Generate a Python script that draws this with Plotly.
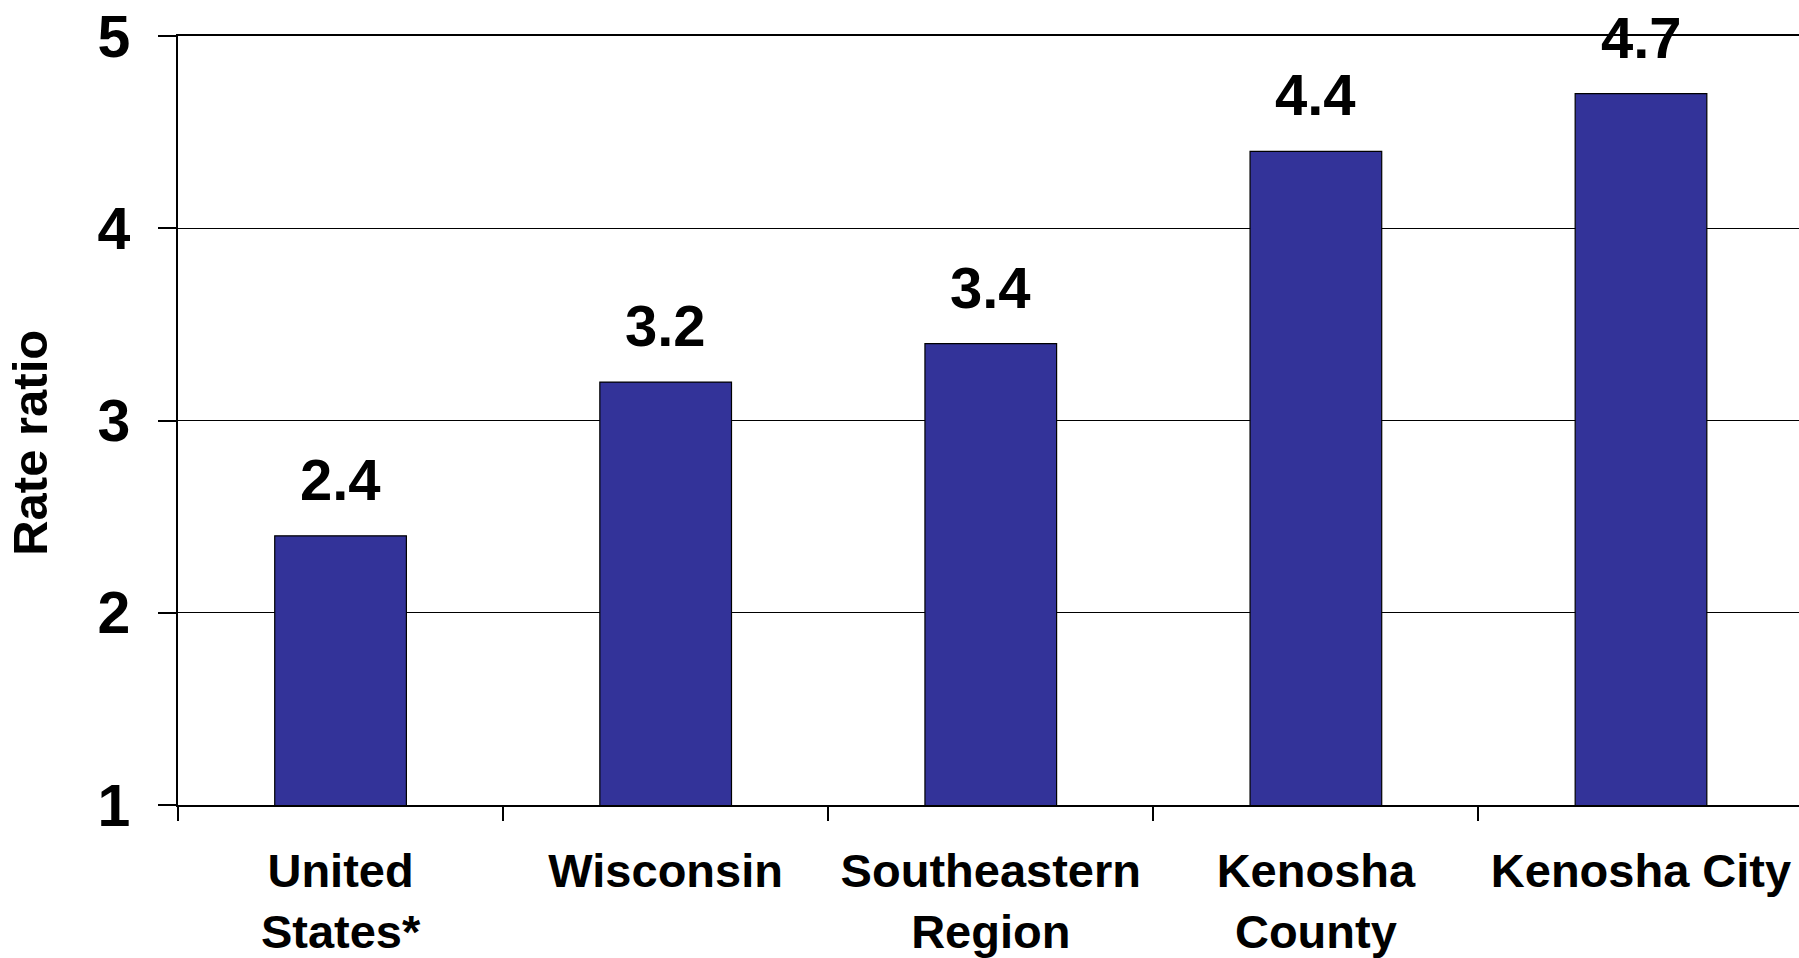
import plotly.graph_objects as go

categories = ["United<br>States*", "Wisconsin", "Southeastern<br>Region", "Kenosha<br>County", "Kenosha City"]
values = [2.4, 3.2, 3.4, 4.4, 4.7]
value_labels = ["2.4", "3.2", "3.4", "4.4", "4.7"]
y_ticks = [1, 2, 3, 4, 5]

FONT = "Liberation Sans, Arial, sans-serif"

fig = go.Figure()
fig.add_trace(go.Bar(
    x=categories, y=values,
    marker=dict(color="#333399", line=dict(color="#000000", width=1.2)),
    width=0.405,
    hoverinfo="skip",
))

for c, v, t in zip(categories, values, value_labels):
    fig.add_annotation(x=c, y=v, text=t, showarrow=False, xanchor="center", yanchor="bottom",
                       yshift=22, font=dict(family=FONT, size=58, color="black", weight="bold"))

fig.add_annotation(xref="paper", yref="paper", x=-0.091, y=0.4716, text="Rate ratio",
                   textangle=-90, showarrow=False, xanchor="center", yanchor="middle",
                   font=dict(family=FONT, size=49, color="black", weight="bold"))

fig.update_layout(
    width=1799, height=958,
    margin=dict(l=178, r=0, t=36, b=148, pad=0),
    paper_bgcolor="white", plot_bgcolor="white",
    showlegend=False,
    xaxis=dict(
        type="category", range=[-0.5, 4.486],
        showline=True, mirror=True, linecolor="black", linewidth=1.5,
        ticks="outside", tickson="boundaries", ticklen=14, tickcolor="black", tickwidth=1.5,
        showgrid=False, zeroline=False,
        tickfont=dict(family=FONT, size=47, color="black", weight="bold"),
        ticklabelstandoff=24,
    ),
    yaxis=dict(
        range=[1, 5], tickvals=y_ticks,
        showline=True, linecolor="black", linewidth=1.5,
        ticks="outside", ticklen=18, tickcolor="black", tickwidth=1.5,
        showgrid=True, gridcolor="black", gridwidth=1.2, zeroline=False,
        tickfont=dict(family=FONT, size=59, color="black", weight="bold"),
        ticklabelstandoff=16,
    ),
)

fig.write_html("out.html", config={"displayModeBar": False},
               post_script="document.body.style.margin='0';document.body.style.overflow='hidden';")
